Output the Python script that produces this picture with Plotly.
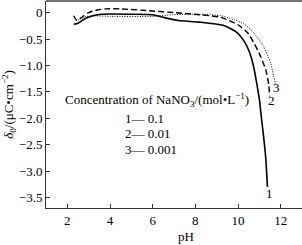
import plotly.graph_objects as go

# pH values and surface charge density (uC/cm^2) for each NaNO3 concentration
ph_1 = [2.3, 2.5, 2.8, 3.2, 3.6, 5.0, 6.0, 6.6, 7.2, 8.2, 9.3, 9.9, 10.3, 10.55, 10.73, 10.87, 11.0, 11.1, 11.2, 11.3, 11.38]
q_1 = [-0.22, -0.2, -0.12, -0.06, -0.03, -0.03, -0.04, -0.1, -0.15, -0.18, -0.24, -0.36, -0.55, -0.76, -1.02, -1.32, -1.64, -2.0, -2.35, -2.75, -3.3]

ph_2 = [2.3, 2.45, 2.7, 3.0, 3.4, 3.8, 4.5, 6.0, 7.0, 8.2, 9.2, 10.0, 10.45, 10.78, 11.06, 11.3, 11.44, 11.48]
q_2 = [-0.06, -0.15, -0.08, 0.0, 0.05, 0.07, 0.07, 0.03, 0.0, -0.04, -0.09, -0.23, -0.38, -0.6, -0.83, -1.08, -1.36, -1.59]

ph_3 = [2.5, 2.8, 3.2, 4.0, 6.0, 7.0, 8.2, 9.2, 9.8, 10.3, 10.73, 11.2, 11.53, 11.67, 11.77]
q_3 = [-0.14, -0.08, -0.06, -0.07, -0.07, -0.04, -0.03, -0.06, -0.13, -0.22, -0.38, -0.64, -0.95, -1.21, -1.35]

x_ticks = [2, 4, 6, 8, 10, 12]
y_ticks = [0, -0.5, -1.0, -1.5, -2.0, -2.5, -3.0, -3.5]
y_tick_text = ["0", "\u22120.5", "\u22121.0", "\u22121.5", "\u22122.0", "\u22122.5", "\u22123.0", "\u22123.5"]

curve_labels = ["1", "2", "3"]
label_pos = [(11.48, -3.42), (11.55, -1.66), (11.82, -1.42)]
conc = ["0.1", "0.01", "0.001"]

FONT = "Liberation Serif"

fig = go.Figure()
fig.add_trace(go.Scatter(x=ph_1, y=q_1, mode="lines", line=dict(color="black", width=1.6, shape="spline", smoothing=0.6)))
fig.add_trace(go.Scatter(x=ph_2, y=q_2, mode="lines", line=dict(color="black", width=1.4, dash="6px,3px", shape="spline", smoothing=0.6)))
fig.add_trace(go.Scatter(x=ph_3, y=q_3, mode="lines", line=dict(color="black", width=1.0, dash="1px,1.5px", shape="spline", smoothing=0.6)))

for t, (xx, yy) in zip(curve_labels, label_pos):
    fig.add_annotation(x=xx, y=yy, text=t, showarrow=False, xref="x", yref="y",
                       font=dict(family=FONT, size=13, color="black"))

W, H = 302, 245
L, R, T, B = 46, 0, 1, 37
def px(x):
    return (x - L) / (W - L - R)
def py(y):
    return (H - B - y) / (H - B - T)

fig.add_annotation(x=px(157), y=py(100), xref="paper", yref="paper", showarrow=False,
                   text="Concentration of NaNO<sub>3</sub>/(mol\u2022L<sup>\u22121</sup>)",
                   font=dict(family=FONT, size=13, color="black"), xanchor="center", yanchor="middle")
for i, (lab, c) in enumerate(zip(curve_labels, conc)):
    fig.add_annotation(x=px(123), y=py(118 + 15.5 * i), xref="paper", yref="paper", showarrow=False,
                       text=f"{lab}\u2014 {c}", font=dict(family=FONT, size=13, color="black"),
                       xanchor="left", yanchor="middle")

fig.add_annotation(x=px(186), y=py(236), xref="paper", yref="paper", showarrow=False,
                   text="pH", font=dict(family=FONT, size=13, color="black"),
                   xanchor="center", yanchor="middle")

# top border line
fig.add_shape(type="line", xref="paper", yref="paper", x0=0, x1=1, y0=1, y1=1,
              line=dict(color="#444", width=1.5))

fig.update_layout(
    width=W, height=H, margin=dict(l=L, r=R, t=T, b=B),
    paper_bgcolor="white", plot_bgcolor="white", showlegend=False,
    font=dict(family=FONT, size=13, color="black"),
)
fig.update_xaxes(range=[1, 13], tickvals=x_ticks, ticks="inside", ticklen=4, tickcolor="#333",
                 showline=True, linecolor="#333", linewidth=1, showgrid=False, zeroline=False,
                 tickfont=dict(family=FONT, size=13, color="black"))
fig.update_yaxes(range=[-3.7, 0.22], tickvals=y_ticks, ticktext=y_tick_text, ticks="inside", ticklen=4,
                 tickcolor="#333", showline=True, linecolor="#333", linewidth=1, showgrid=False, zeroline=False,
                 tickfont=dict(family=FONT, size=13, color="black"),
                 title=dict(text="<i>\u03b4</i><sub>0</sub>/(\u03bcC\u2022cm<sup>\u22122</sup>)", standoff=2,
                            font=dict(family=FONT, size=13, color="black")))

fig.write_html("out.html")
